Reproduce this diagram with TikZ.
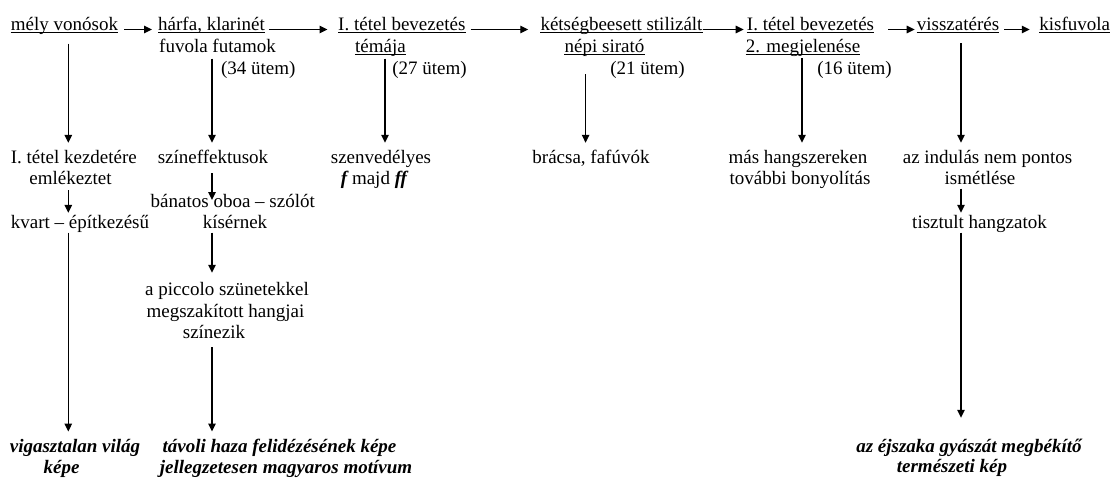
\documentclass[tikz,border=0pt]{standalone}
\usepackage{fontspec}
\setmainfont{Liberation Serif}
\usetikzlibrary{arrows.meta}
\begin{document}
\begin{tikzpicture}[x=1pt,y=-1pt]
\tikzset{
  txt/.style={inner sep=0pt, anchor=base, text height=13pt, text depth=4pt,
              font=\fontsize{19pt}{21.5pt}\selectfont},
  bit/.style={txt, font=\fontsize{19pt}{21.5pt}\selectfont\bfseries\itshape},
  arr/.style={line width=1.3pt, -{Triangle[length=8pt,width=7.5pt]}},
  ul/.style={line width=1pt},
}
\useasboundingbox[fill=white] (0,0) rectangle (1112,477);
% column positions of the vertical connectors
\coordinate (c1) at (68.3,0);
\coordinate (c2) at (212,0);
\coordinate (c3) at (385,0);
\coordinate (c4) at (585.6,0);
\coordinate (c5) at (802,0);
\coordinate (c6) at (961,0);
% top row
\node[txt] (n1) at (64.5,30.5) {mély vonósok};
\node[txt] (n2) at (211.5,30.5) {hárfa, klarinét};
\node[txt] (n2b) at (217.5,52.5) {fuvola futamok};
\node[txt] (n2c) at (258.3,74) {(34 ütem)};
\node[txt] (n3) at (401.8,30.5) {I. tétel bevezetés};
\node[txt] (n3b) at (380.5,52.5) {témája};
\node[txt] (n3c) at (429.5,74) {(27 ütem)};
\node[txt] (n4) at (621.5,30.5) {kétségbeesett stilizált};
\node[txt] (n4b) at (604.5,52.5) {népi sirató};
\node[txt] (n4c) at (647.5,74) {(21 ütem)};
\node[txt] (n5) at (810.5,30.5) {I. tétel bevezetés};
\node[txt] (n5b) at (803,52.5) {2. megjelenése};
\node[txt] (n5c) at (854.5,74) {(16 ütem)};
\node[txt] (n6) at (958,30.5) {visszatérés};
\node[txt] (n7) at (1074.8,30.5) {kisfuvola};
% column 1
\node[txt] (k1) at (73.8,163.5) {I. tétel kezdetére};
\node[txt] (k2) at (70.5,184.5) {emlékeztet};
\node[txt] (k3) at (80,228.5) {kvart – építkezésű};
\node[bit] (v1) at (75,452.2) {vigasztalan világ};
\node[bit] (v2) at (61.5,473.7) {képe};
% column 2
\node[txt] (s1) at (213,163.5) {színeffektusok};
\node[txt] (s2) at (232.8,207.2) {bánatos oboa – szólót};
\node[txt] (s3) at (235,228.5) {kísérnek};
\node[txt] (p1) at (227,295.5) {a piccolo szünetekkel};
\node[txt] (p2) at (225.5,317.2) {megszakított hangjai};
\node[txt] (p3) at (214,338.5) {színezik};
\node[bit] (t1) at (279.5,452.2) {távoli haza felidézésének képe};
\node[bit] (t2) at (286,473.7) {jellegzetesen magyaros motívum};
% column 3
\node[txt] (sz1) at (381,163.5) {szenvedélyes};
\node[txt] (sz2) at (374,184.5) {{\bfseries\itshape f} majd {\bfseries\itshape ff}};
% column 4
\node[txt] (b1) at (591,163.5) {brácsa, fafúvók};
% column 5
\node[txt] (m1) at (798,163.5) {más hangszereken};
\node[txt] (m2) at (800,184.5) {további bonyolítás};
% column 6
\node[txt] (i1) at (987.5,163.5) {az indulás nem pontos};
\node[txt] (i2) at (980,184.5) {ismétlése};
\node[txt] (ti) at (979.5,228.5) {tisztult hangzatok};
\node[bit] (e1) at (969,452.2) {az éjszaka gyászát megbékítő};
\node[bit] (e2) at (952,472.2) {természeti kép};
% underlines
\foreach \n in {n1,n2,n3,n3b,n4,n4b,n5,n5b,n6,n7}
  \draw[ul] ([yshift=-2pt]\n.base west) -- ([yshift=-2pt]\n.base east);
% horizontal arrows
\draw[arr, shorten <=6pt, shorten >=6pt] ([yshift=1pt]n1.base east) -- ([yshift=1pt]n2.base west);
\draw[arr, shorten <=4pt, shorten >=10.5pt] ([yshift=1pt]n2.base east) -- ([yshift=1pt]n3.base west);
\draw[arr, shorten <=5pt, shorten >=12pt] ([yshift=1pt]n3.base east) -- ([yshift=1pt]n4.base west);
\draw[arr, shorten >=3pt] ([yshift=1pt]n4.base east) -- ([yshift=1pt]n5.base west);
\draw[arr, shorten <=14pt, shorten >=2pt] ([yshift=1pt]n5.base east) -- ([yshift=1pt]n6.base west);
\draw[arr, shorten <=5pt, shorten >=9.5pt] ([yshift=1pt]n6.base east) -- ([yshift=1pt]n7.base west);
% vertical arrows from the top row
\draw[arr, shorten <=8.8pt, shorten >=7.5pt] (n1.south -| c1) -- (k1.north -| c1);
\draw[arr, shorten <=1.8pt, shorten >=7.5pt] (n2b.south -| c2) -- (s1.north -| c2);
\draw[arr, shorten <=1.8pt, shorten >=7.5pt] (n3b.south -| c3) -- (sz1.north -| c3);
\draw[arr, shorten <=17.5pt, shorten >=7.5pt] (n4b.south -| c4) -- (b1.north -| c4);
\draw[arr, shorten <=1.5pt, shorten >=7.5pt] (n5b.south -| c5) -- (m1.north -| c5);
\draw[arr, shorten <=8.5pt, shorten >=7.5pt] (n6.south -| c6) -- (i1.north -| c6);
% column chains
\draw[arr, shorten <=1.5pt, shorten >=2.5pt] (k2.south -| c1) -- (k3.north -| c1);
\draw[arr, shorten >=7.5pt] (k3.south -| c1) -- (v1.north -| c1);
\draw[arr, shorten <=5.5pt, shorten >=7.2pt] (s1.south -| c2) -- (s2.base -| c2);
\draw[arr, shorten >=9.5pt] (s3.south -| c2) -- (p1.north -| c2);
\draw[arr, shorten <=4.5pt, shorten >=7.5pt] (p3.south -| c2) -- (t1.north -| c2);
\draw[arr, shorten >=2.5pt] (i2.south -| c6) -- (ti.north -| c6);
\draw[arr, shorten >=21.2pt] (ti.south -| c6) -- (e1.north -| c6);
\end{tikzpicture}
\end{document}
